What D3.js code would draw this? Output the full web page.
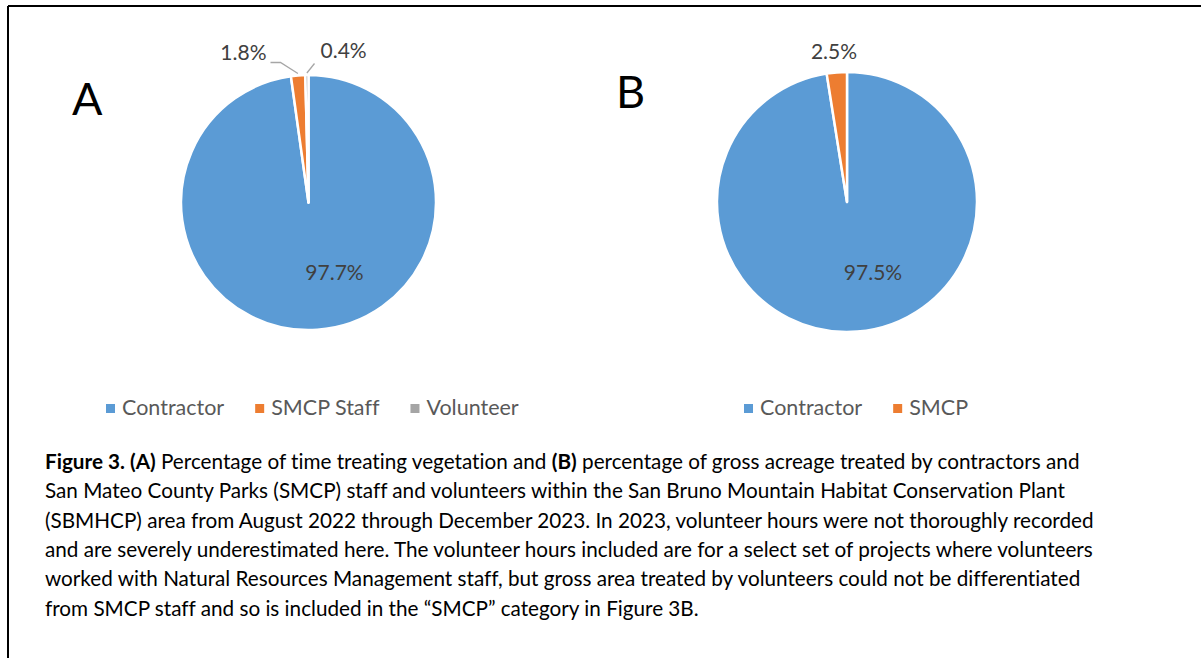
<!DOCTYPE html>
<meta charset="utf-8">
<style>
body { margin: 0; background: #fff; }
text { font-family: Lato, "Open Sans", sans-serif; font-variant-ligatures: none; }
</style>
<svg width="1201" height="658"></svg>
<script src="https://d3js.org/d3.v7.min.js"></script>
<script>

// chart A: share of time treating vegetation
var catsA = ["Contractor", "SMCP Staff", "Volunteer"];
var valsA = [97.7, 1.8, 0.4];
// chart B: share of gross acreage treated
var catsB = ["Contractor", "SMCP"];
var valsB = [97.5, 2.5];

var colours = ["#5b9bd5", "#ed7d31", "#a5a5a5"];

var caption = [
  [["b", "Figure 3. (A)"], ["n", " Percentage of time treating vegetation and "], ["b", "(B)"], ["n", " percentage of gross acreage treated by contractors and"]],
  [["n", "San Mateo County Parks (SMCP) staff and volunteers within the San Bruno Mountain Habitat Conservation Plant"]],
  [["n", "(SBMHCP) area from August 2022 through December 2023. In 2023, volunteer hours were not thoroughly recorded"]],
  [["n", "and are severely underestimated here. The volunteer hours included are for a select set of projects where volunteers"]],
  [["n", "worked with Natural Resources Management staff, but gross area treated by volunteers could not be differentiated"]],
  [["n", "from SMCP staff and so is included in the \u201cSMCP\u201d category in Figure 3B."]]
];

var svg = d3.select("svg");

// frame (only top and left edges show in the figure)
svg.append("line").attr("x1", 8).attr("y1", 6).attr("x2", 1201).attr("y2", 6)
   .style("stroke", "#000").style("stroke-width", 2);
svg.append("line").attr("x1", 8).attr("y1", 6).attr("x2", 8).attr("y2", 658)
   .style("stroke", "#000").style("stroke-width", 2);

var pie = d3.pie().sort(null).value(function(d) { return d; });

function drawPie(opts) {
  var g = svg.append("g").attr("transform", "translate(" + opts.cx + "," + opts.cy + ")");
  var arcs = pie(opts.values);
  var arc = d3.arc().innerRadius(0).outerRadius(opts.r);

  g.selectAll("path").data(arcs).enter().append("path")
   .attr("d", arc)
   .style("fill", function(d, i) { return colours[i]; })
   .style("stroke", "#fff")
   .style("stroke-width", 2.5)
   .style("stroke-linejoin", "round");

  // big slice label, inside
  var big = arcs[0];
  g.append("text")
   .attr("x", opts.inner[0]).attr("y", opts.inner[1])
   .attr("text-anchor", "middle")
   .style("font-size", "21px").style("fill", "#404040")
   .text(d3.format(".1f")(big.value) + "%");

  // small slice labels, outside
  opts.outer.forEach(function(o) {
    var a = arcs[o.i];
    var mid = (a.startAngle + a.endAngle) / 2;
    var px = Math.sin(mid) * (opts.r + 2), py = -Math.cos(mid) * (opts.r + 2);
    if (o.leader) {
      g.append("polyline")
       .attr("points", [[px, py], o.elbow].concat(o.end ? [o.end] : []).map(function(p) { return p.join(","); }).join(" "))
       .style("fill", "none").style("stroke", "#a6a6a6").style("stroke-width", 1.3);
    }
    g.append("text")
     .attr("x", o.pos[0]).attr("y", o.pos[1])
     .attr("text-anchor", o.anchor)
     .style("font-size", "21px").style("fill", "#404040")
     .text(d3.format(".1f")(a.value) + "%");
  });

  // panel letter
  svg.append("text")
   .attr("x", opts.letter[0]).attr("y", opts.letter[1])
   .style("font-size", "45px").style("fill", "#000")
   .text(opts.name);

  // legend
  var lg = svg.append("g").attr("transform", "translate(" + opts.legend[0] + "," + opts.legend[1] + ")");
  var lx = 0;
  opts.cats.forEach(function(c, i) {
    lg.append("rect").attr("x", lx).attr("y", -11).attr("width", 9).attr("height", 9)
      .style("fill", colours[i]);
    var t = lg.append("text").attr("x", lx + 16).attr("y", 0)
      .style("font-size", "21.5px").style("fill", "#595959").text(c);
    lx += 16 + t.node().getComputedTextLength() + 31;
  });
}

drawPie({
  name: "A", cx: 308.5, cy: 202.5, r: 127.5, values: valsA, cats: catsA,
  inner: [26, 77],
  outer: [
    { i: 1, leader: true, elbow: [-28, -140], end: [-38, -140], pos: [-42, -143], anchor: "end" },
    { i: 2, leader: true, elbow: [6, -139], pos: [12, -145], anchor: "start" }
  ],
  letter: [72, 115], legend: [106, 415]
});

drawPie({
  name: "B", cx: 847, cy: 202, r: 130, values: valsB, cats: catsB,
  inner: [26, 78],
  outer: [
    { i: 1, leader: false, pos: [-13, -143], anchor: "middle" }
  ],
  letter: [616, 108], legend: [744, 415]
});

// caption
var cap = svg.append("text").style("font-size", "20.7px").style("fill", "#000");
caption.forEach(function(line, li) {
  line.forEach(function(run, ri) {
    var ts = cap.append("tspan").text(run[1]).style("font-weight", run[0] == "b" ? "bold" : "normal");
    if (ri == 0) ts.attr("x", 45).attr("y", 469 + li * 29.3);
  });
});

</script>
